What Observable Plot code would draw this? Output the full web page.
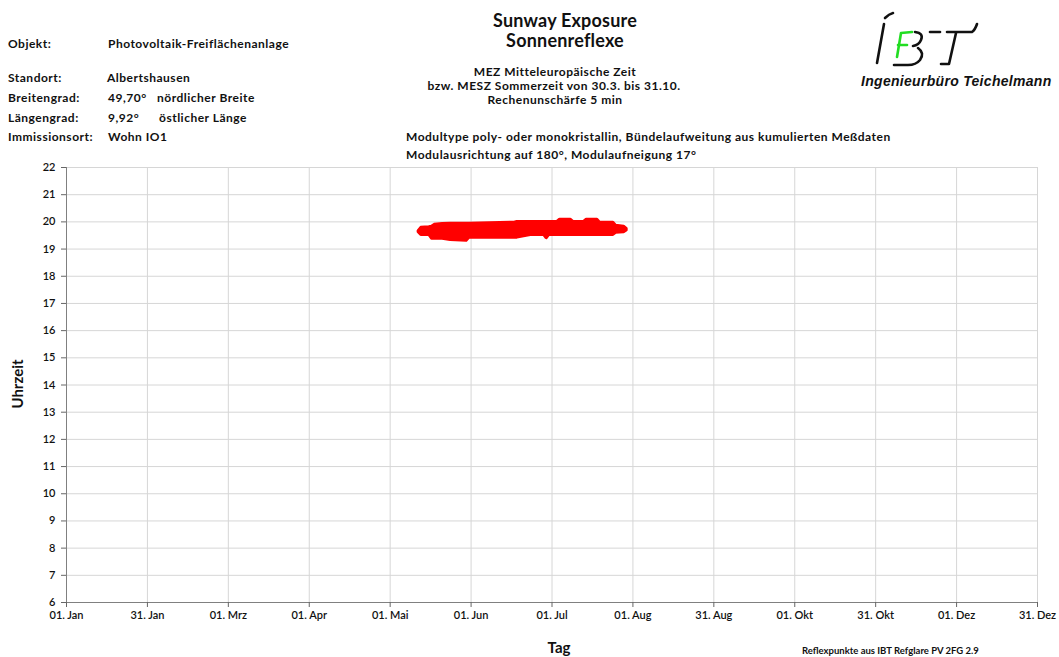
<!DOCTYPE html>
<html><head><meta charset="utf-8">
<script src="https://cdn.jsdelivr.net/npm/d3@7"></script>
<script src="https://cdn.jsdelivr.net/npm/@observablehq/plot@0.6"></script>
<style>
body{margin:0;background:#fff;font-family:Lato,"Open Sans",sans-serif;}
#page{position:relative;width:1059px;height:657px;overflow:hidden;background:#fff;}
.t{position:absolute;z-index:2;white-space:nowrap;font-weight:700;color:#111;font-size:12px;letter-spacing:0.5px;line-height:12px;}
.c{transform:translateX(-50%);text-align:center;}
#chart{position:absolute;left:0;top:150px;z-index:1;}
</style></head><body><div id="page">
<div id="chart"></div>
<div class="t" style="left:8px;top:38px">Objekt:</div>
<div class="t" style="left:108px;top:38px">Photovoltaik-Freiflächenanlage</div>
<div class="t" style="left:8px;top:72px">Standort:</div>
<div class="t" style="left:107px;top:72px">Albertshausen</div>
<div class="t" style="left:8px;top:92px">Breitengrad:</div>
<div class="t" style="left:108px;top:92px">49,70°</div>
<div class="t" style="left:157px;top:92px">nördlicher Breite</div>
<div class="t" style="left:8px;top:112px">Längengrad:</div>
<div class="t" style="left:108px;top:112px">9,92°</div>
<div class="t" style="left:159px;top:112px">östlicher Länge</div>
<div class="t" style="left:8px;top:131px">Immissionsort:</div>
<div class="t" style="left:108px;top:131px">Wohn IO1</div>

<div class="t c" style="left:565px;top:10px;font-size:18px;letter-spacing:0.2px;line-height:20px">Sunway Exposure</div>
<div class="t c" style="left:565px;top:30px;font-size:18px;letter-spacing:0.2px;line-height:20px">Sonnenreflexe</div>
<div class="t c" style="left:555px;top:66px">MEZ Mitteleuropäische Zeit</div>
<div class="t c" style="left:554px;top:80px">bzw. MESZ Sommerzeit von 30.3. bis 31.10.</div>
<div class="t c" style="left:555px;top:94px">Rechenunschärfe 5 min</div>
<div class="t" style="left:406px;top:130px;line-height:14px">Modultype poly- oder monokristallin, Bündelaufweitung aus kumulierten Meßdaten</div>
<div class="t" style="left:406px;top:148px;line-height:14px">Modulausrichtung auf 180°, Modulaufneigung 17°</div>

<svg style="position:absolute;left:840px;top:0" width="219" height="72" viewBox="840 0 219 72" fill="none" stroke-linecap="round" stroke-linejoin="round">
  <g stroke="#111" stroke-width="2.6">
    <path d="M877,63 L884,24"/>
    <path d="M885,18 Q889,14 893,13"/>
    <path d="M915,32 Q924,33 921,40 Q919,45 913,46"/>
    <path d="M918,48 Q925,53 920,60 Q916,65 908,65 L894,65"/>
    <path d="M930,32 L940,32"/>
    <path d="M947,32 L972,32 Q975,30 977,24"/>
    <path d="M956,33 L949,64 L941,64"/>
  </g>
  <g stroke="#22dd22" stroke-width="2.6">
    <path d="M897,57 L901,33 L912,32"/>
    <path d="M898,45 L907,45"/>
  </g>
</svg>
<div class="t" style="left:861px;top:74px;font-family:'Liberation Sans',Arial,sans-serif;font-style:italic;font-size:14px;letter-spacing:0.3px;line-height:14px">Ingenieurbüro Teichelmann</div>

<div class="t" style="left:17px;top:384px;font-size:15px;letter-spacing:0;line-height:16px;transform:translate(-50%,-50%) rotate(-90deg)">Uhrzeit</div>
<div class="t c" style="left:559px;top:639px;font-size:15px;letter-spacing:0;line-height:16px">Tag</div>
<div class="t" style="left:802px;top:646px;font-size:9.5px;letter-spacing:0;line-height:10px">Reflexpunkte aus IBT Refglare PV 2FG 2.9</div>
</div>
<script>
// x-axis tick labels (evenly spaced over the year)
const xTickLabels = ["01. Jan","31. Jan","01. Mrz","01. Apr","01. Mai","01. Jun","01. Jul","01. Aug","31. Aug","01. Okt","31. Okt","01. Dez","31. Dez"];
const yTicks = [6,7,8,9,10,11,12,13,14,15,16,17,18,19,20,21,22];

// reflection band: date, earliest and latest time of day (hours, decimal)
const bandDates = ["2023-05-13","2023-05-14","2023-05-17","2023-05-18","2023-05-19","2023-05-22","2023-05-25","2023-05-31","2023-06-01","2023-06-18","2023-06-19","2023-06-24","2023-06-29","2023-06-30","2023-07-01","2023-07-04","2023-07-05","2023-07-09","2023-07-10","2023-07-14","2023-07-15","2023-07-19","2023-07-20","2023-07-25","2023-07-26","2023-07-29","2023-07-30"];
const bandLow  = [19.62,19.52,19.52,19.38,19.38,19.38,19.33,19.31,19.42,19.42,19.42,19.52,19.52,19.40,19.52,19.52,19.52,19.52,19.52,19.52,19.52,19.52,19.52,19.52,19.60,19.62,19.68];
const bandHigh = [19.66,19.78,19.80,19.82,19.89,19.92,19.93,19.93,19.93,19.97,20.00,20.00,20.00,20.00,20.00,20.00,20.08,20.08,20.00,20.00,20.08,20.08,19.97,19.97,19.86,19.82,19.74];

const band = bandDates.map((d,i)=>({date:new Date(d+"T00:00:00Z"), lo:bandLow[i], hi:bandHigh[i]}));
const start = new Date(Date.UTC(2023,0,1)), end = new Date(Date.UTC(2023,11,31));
const xTicks = xTickLabels.map((_,i)=> new Date(+start + i*(end-start)/(xTickLabels.length-1)));
const labelMap = new Map(xTicks.map((d,i)=>[+d, xTickLabels[i]]));

const chart = Plot.plot({
  width: 1059, height: 507,
  marginLeft: 66, marginRight: 22, marginTop: 17, marginBottom: 55,
  style: {fontFamily: "Lato, 'Open Sans', sans-serif", fontSize: "11px", color: "#111", background: "transparent"},
  x: {type: "utc", domain: [start, end]},
  y: {domain: [6, 22]},
  marks: [
    Plot.gridX(xTicks, {stroke: "#d6d6d6", strokeOpacity: 1}),
    Plot.gridY(yTicks, {stroke: "#d6d6d6", strokeOpacity: 1}),
    Plot.areaY(band, {x: "date", y1: "lo", y2: "hi", fill: "#ff0000", stroke: "#ff0000", strokeWidth: 3, strokeLinejoin: "round", curve: "linear"}),
    Plot.ruleX([start], {stroke: "#808080"}),
    Plot.ruleY([6], {stroke: "#808080"}),
    Plot.axisX(xTicks, {tickFormat: d => labelMap.get(+d), tickSize: 5, tickPadding: 4, stroke: "#666", label: null, fontWeight: 600}),
    Plot.axisY(yTicks, {tickSize: 5, tickPadding: 6, stroke: "#666", label: null, fontWeight: 600})
  ]
});
document.getElementById("chart").appendChild(chart);
</script>
</body></html>
